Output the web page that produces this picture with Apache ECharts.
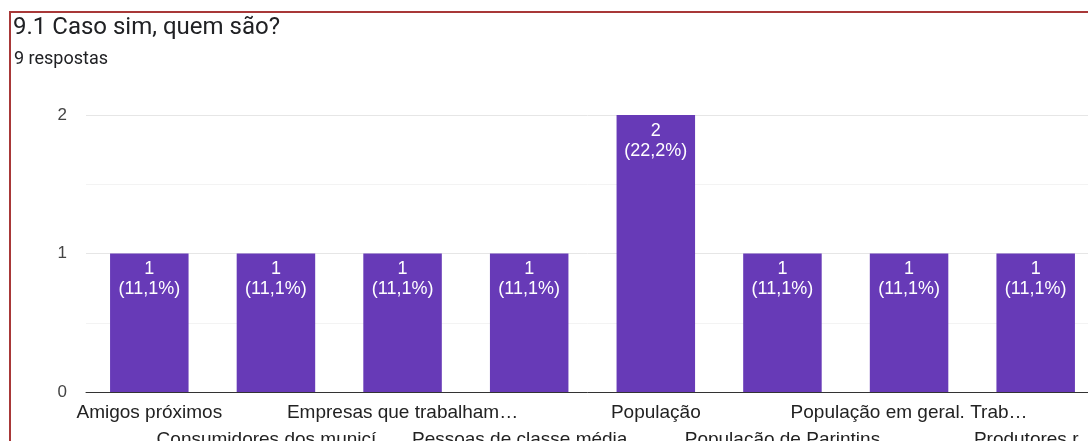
<!DOCTYPE html>
<html>
<head>
<meta charset="utf-8">
<script src="https://cdn.jsdelivr.net/npm/echarts@6/dist/echarts.min.js"></script>
<style>
  html, body { margin: 0; padding: 0; background: #fff; }
  #chart { width: 1088px; height: 441px; }
</style>
</head>
<body>
<div id="chart"></div>
<script>
var categories = [
  'Amigos próximos',
  'Consumidores dos municí…',
  'Empresas que trabalham…',
  'Pessoas de classe média…',
  'População',
  'População de Parintins',
  'População em geral. Trab…',
  'Produtores r…'
];
var counts = [1, 1, 1, 1, 2, 1, 1, 1];
var percents = ['11,1%', '11,1%', '11,1%', '11,1%', '22,2%', '11,1%', '11,1%', '11,1%'];
var yTicks = [0, 1, 2];

var chart = echarts.init(document.getElementById('chart'));

var option = {
  animation: false,
  title: [
    {
      text: '9.1 Caso sim, quem são?',
      left: 8,
      top: 11,
      textStyle: { fontFamily: 'Roboto', fontSize: 24, fontWeight: 'normal', color: '#202124' }
    },
    {
      text: '9 respostas',
      left: 9,
      top: 45,
      textStyle: { fontFamily: 'Roboto', fontSize: 18, fontWeight: 'normal', color: '#202124' }
    }
  ],
  graphic: [
    {
      type: 'rect',
      silent: true,
      shape: { x: 10, y: 12, width: 1200, height: 600 },
      style: { fill: 'none', stroke: '#a83838', lineWidth: 2 }
    }
  ],
  grid: {
    left: 86,
    top: 115,
    width: 1013,
    height: 277,
    outerBoundsMode: 'none'
  },
  xAxis: {
    type: 'category',
    data: categories,
    axisTick: { show: false },
    axisLine: { lineStyle: { color: '#333', width: 1 } },
    axisLabel: {
      interval: 0,
      margin: 7,
      fontFamily: 'Liberation Sans, Arial',
      fontSize: 19,
      color: '#222',
      lineHeight: 27,
      formatter: function(value, index) {
        return index % 2 === 1 ? '\n' + value : value;
      }
    }
  },
  yAxis: {
    type: 'value',
    min: 0,
    max: 2,
    interval: 0.5,
    axisLine: { show: false },
    axisTick: { show: false },
    axisLabel: {
      margin: 19,
      fontFamily: 'Liberation Sans, Arial',
      fontSize: 17,
      color: '#444',
      formatter: function(v) {
        return yTicks.indexOf(v) >= 0 ? String(v) : '';
      }
    },
    splitLine: {
      lineStyle: { color: ['#e6e6e6', '#f3f3f3'], width: 1 }
    }
  },
  series: [
    {
      type: 'bar',
      data: counts,
      barCategoryGap: '38%',
      itemStyle: { color: '#673ab7' },
      label: {
        show: true,
        position: 'insideTop',
        distance: 6,
        color: '#fff',
        fontFamily: 'Liberation Sans, Arial',
        fontSize: 18,
        lineHeight: 20,
        formatter: function(p) {
          return p.value + '\n(' + percents[p.dataIndex] + ')';
        }
      }
    }
  ]
};

chart.setOption(option);
</script>
</body>
</html>
